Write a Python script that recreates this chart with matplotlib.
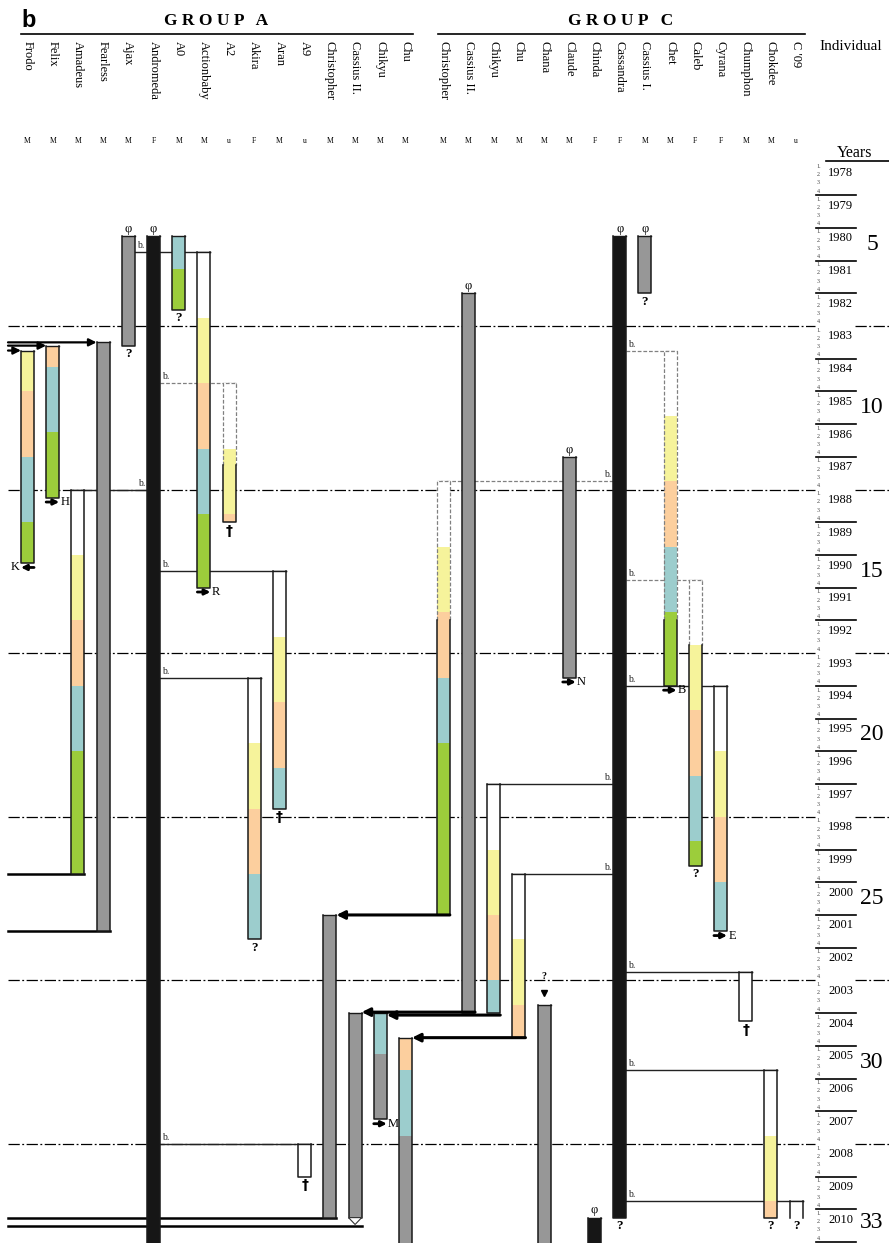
import numpy as np
import matplotlib.pyplot as plt
from matplotlib.patches import Rectangle, Polygon

plt.rcParams['font.family'] = ['Liberation Serif', 'DejaVu Serif']

# header: individuals and sex
group_a = ["Frodo", "Felix", "Amadeus", "Fearless", "Ajax", "Andromeda", "A0",
           "Actionbaby", "A2", "Akira", "Aran", "A9", "Christopher",
           "Cassius II.", "Chikyu", "Chu"]
sex_a = ["M", "M", "M", "M", "M", "F", "M", "M", "u", "F", "M", "u", "M", "M", "M", "M"]
group_c = ["Christopher", "Cassius II.", "Chikyu", "Chu", "Chana", "Claude",
           "Chinda", "Cassandra", "Cassius I.", "Chet", "Caleb", "Cyrana",
           "Chumphon", "Chokdee", "C '09"]
sex_c = ["M", "M", "M", "M", "M", "M", "F", "F", "M", "M", "F", "F", "M", "M", "u"]

END = 2011.5  # still present at the bottom edge

# individual, from, to, stage
# w = before stage 1, y/p/t/g = stages 1-4, s = grey, k = black
segments = [
    ("A:Frodo", 1983.75, 1985.0, "y"), ("A:Frodo", 1985.0, 1987.0, "p"),
    ("A:Frodo", 1987.0, 1989.0, "t"), ("A:Frodo", 1989.0, 1990.25, "g"),
    ("A:Felix", 1983.6, 1984.25, "p"), ("A:Felix", 1984.25, 1986.25, "t"),
    ("A:Felix", 1986.25, 1988.25, "g"),
    ("A:Amadeus", 1988.0, 1990.0, "w"), ("A:Amadeus", 1990.0, 1992.0, "y"),
    ("A:Amadeus", 1992.0, 1994.0, "p"), ("A:Amadeus", 1994.0, 1996.0, "t"),
    ("A:Amadeus", 1996.0, 1999.75, "g"),
    ("A:Fearless", 1983.5, 2001.5, "s"),
    ("A:Ajax", 1980.25, 1983.6, "s"),
    ("A:Andromeda", 1980.25, END, "k"),
    ("A:A0", 1980.25, 1981.25, "t"), ("A:A0", 1981.25, 1982.5, "g"),
    ("A:Actionbaby", 1980.75, 1982.75, "w"), ("A:Actionbaby", 1982.75, 1984.75, "y"),
    ("A:Actionbaby", 1984.75, 1986.75, "p"), ("A:Actionbaby", 1986.75, 1988.75, "t"),
    ("A:Actionbaby", 1988.75, 1991.0, "g"),
    ("A:A2", 1984.75, 1986.75, "w"), ("A:A2", 1986.75, 1988.75, "y"),
    ("A:A2", 1988.75, 1989.0, "p"),
    ("A:Akira", 1993.75, 1995.75, "w"), ("A:Akira", 1995.75, 1997.75, "y"),
    ("A:Akira", 1997.75, 1999.75, "p"), ("A:Akira", 1999.75, 2001.75, "t"),
    ("A:Aran", 1990.5, 1992.5, "w"), ("A:Aran", 1992.5, 1994.5, "y"),
    ("A:Aran", 1994.5, 1996.5, "p"), ("A:Aran", 1996.5, 1997.75, "t"),
    ("A:A9", 2008.0, 2009.0, "w"),
    ("A:Christopher", 2001.0, 2010.25, "s"),
    ("A:Cassius II.", 2004.0, 2010.25, "s"),
    ("A:Chikyu", 2004.0, 2005.25, "t"), ("A:Chikyu", 2005.25, 2007.25, "s"),
    ("A:Chu", 2004.75, 2005.75, "p"), ("A:Chu", 2005.75, 2007.75, "t"),
    ("A:Chu", 2007.75, END, "s"),
    ("C:Christopher", 1987.75, 1989.75, "w"), ("C:Christopher", 1989.75, 1991.75, "y"),
    ("C:Christopher", 1991.75, 1993.75, "p"), ("C:Christopher", 1993.75, 1995.75, "t"),
    ("C:Christopher", 1995.75, 2001.0, "g"),
    ("C:Cassius II.", 1982.0, 2004.0, "s"),
    ("C:Chikyu", 1997.0, 1999.0, "w"), ("C:Chikyu", 1999.0, 2001.0, "y"),
    ("C:Chikyu", 2001.0, 2003.0, "p"), ("C:Chikyu", 2003.0, 2004.0, "t"),
    ("C:Chu", 1999.75, 2001.75, "w"), ("C:Chu", 2001.75, 2003.75, "y"),
    ("C:Chu", 2003.75, 2004.75, "p"),
    ("C:Chana", 2003.75, END, "s"),
    ("C:Claude", 1987.0, 1993.75, "s"),
    ("C:Chinda", 2010.25, END, "k"),
    ("C:Cassandra", 1980.25, 2010.25, "k"),
    ("C:Cassius I.", 1980.25, 1982.0, "s"),
    ("C:Chet", 1983.75, 1985.75, "w"), ("C:Chet", 1985.75, 1987.75, "y"),
    ("C:Chet", 1987.75, 1989.75, "p"), ("C:Chet", 1989.75, 1991.75, "t"),
    ("C:Chet", 1991.75, 1994.0, "g"),
    ("C:Caleb", 1990.75, 1992.75, "w"), ("C:Caleb", 1992.75, 1994.75, "y"),
    ("C:Caleb", 1994.75, 1996.75, "p"), ("C:Caleb", 1996.75, 1998.75, "t"),
    ("C:Caleb", 1998.75, 1999.5, "g"),
    ("C:Cyrana", 1994.0, 1996.0, "w"), ("C:Cyrana", 1996.0, 1998.0, "y"),
    ("C:Cyrana", 1998.0, 2000.0, "p"), ("C:Cyrana", 2000.0, 2001.5, "t"),
    ("C:Chumphon", 2002.75, 2004.25, "w"),
    ("C:Chokdee", 2005.75, 2007.75, "w"), ("C:Chokdee", 2007.75, 2009.75, "y"),
    ("C:Chokdee", 2009.75, 2010.25, "p"),
    ("C:C '09", 2009.75, 2010.25, "w"),
]

# uncertain (dashed) part of a life line
dashed_until = {"A:A2": 1987.25, "C:Christopher": 1992.0,
                "C:Chet": 1992.0, "C:Caleb": 1992.75}
open_bottom = ["C:C '09"]

# parent line, child, year, uncertain
births = [
    ("A:Ajax", "A:Actionbaby", 1980.75, False),
    ("A:Andromeda", "A:A2", 1984.75, True),
    ("A:Andromeda", "A:Amadeus", 1988.0, False),
    ("A:Andromeda", "A:Aran", 1990.5, False),
    ("A:Andromeda", "A:Akira", 1993.75, False),
    ("A:Andromeda", "A:A9", 2008.0, False),
    ("C:Cassandra", "C:Chet", 1983.75, True),
    ("C:Cassandra", "C:Christopher", 1987.75, True),
    ("C:Cassandra", "C:Caleb", 1990.75, True),
    ("C:Cassandra", "C:Cyrana", 1994.0, False),
    ("C:Cassandra", "C:Chikyu", 1997.0, False),
    ("C:Cassandra", "C:Chu", 1999.75, False),
    ("C:Cassandra", "C:Chumphon", 2002.75, False),
    ("C:Cassandra", "C:Chokdee", 2005.75, False),
    ("C:Cassandra", "C:C '09", 2009.75, False),
]

# moves from group C to group A
transfers = [("C:Christopher", "A:Christopher", 2001.0),
             ("C:Cassius II.", "A:Cassius II.", 2003.97),
             ("C:Chikyu", "A:Chikyu", 2004.06),
             ("C:Chu", "A:Chu", 2004.75)]

immigrants = [("A:Fearless", 1983.5), ("A:Felix", 1983.6), ("A:Frodo", 1983.75)]
emigrants = [("A:Amadeus", 1999.75), ("A:Fearless", 2001.5),
             ("A:Christopher", 2010.25), ("A:Cassius II.", 2010.5)]

exits = [("A:Frodo", "K"), ("A:Felix", "H"), ("A:Actionbaby", "R"),
         ("C:Claude", "N"), ("C:Chet", "B"), ("C:Cyrana", "E"), ("A:Chikyu", "M")]
unknown_end = ["A:Ajax", "A:A0", "A:Akira", "C:Caleb", "C:Cassius I.",
               "C:Cassandra", "C:Chokdee", "C:C '09"]
died = ["A:A2", "A:Aran", "A:A9", "C:Chumphon"]
founders = ["A:Ajax", "A:Andromeda", "C:Cassandra", "C:Cassius I.",
            "C:Cassius II.", "C:Claude", "C:Chinda"]

years = np.arange(1978, 2011)
dashdot_years = [1983, 1988, 1993, 1998, 2003, 2008]
period_marks = ["5", "10", "15", "20", "25", "30", "33"]
period_at = [1980.5, 1985.5, 1990.5, 1995.5, 2000.5, 2005.5, 2010.4]

fill = {"w": "white", "y": "#f6f39b", "p": "#fccf9e", "t": "#9ccdcd",
        "g": "#9ccd3b", "s": "#979797", "k": "#161616"}


# pixel -> data helpers for layout
def X(p):
    return (p - 27.5) / 25.2


def Y(p):
    return 1978 + (p - 162.4) / 32.72


xpos = {f"A:{n}": i for i, n in enumerate(group_a)}
xpos.update({f"C:{n}": 16.5 + j for j, n in enumerate(group_c)})
HW = 0.26

fig = plt.figure(figsize=(8.89, 12.43), dpi=100)
ax = fig.add_axes([0, 0, 1, 1])
ax.set_xlim(X(0), X(889))
ax.set_ylim(Y(1243), Y(0))
ax.axis('off')

# header
ax.text(X(21), Y(27), 'b', family='Liberation Sans', fontweight='bold',
        fontsize=17, ha='left', va='baseline')
ax.text(X(216), Y(21), 'G R O U P   A', fontweight='bold', fontsize=12.5,
        ha='center', va='center')
ax.text(X(621), Y(21), 'G R O U P   C', fontweight='bold', fontsize=12.5,
        ha='center', va='center')
ax.plot([X(21), X(413)], [Y(34), Y(34)], color='black', lw=1.2)
ax.plot([X(438), X(805)], [Y(34), Y(34)], color='black', lw=1.2)
for names, sexes, g in [(group_a, sex_a, "A"), (group_c, sex_c, "C")]:
    for n, s in zip(names, sexes):
        x = xpos[f"{g}:{n}"]
        ax.text(x, Y(41), n, rotation=-90, ha='center', va='top', fontsize=9)
        ax.text(x, Y(141.5), s, ha='center', va='center', fontsize=5.5)
ax.text(X(851), Y(47), 'Individual', ha='center', va='center', fontsize=11)
ax.text(X(855), Y(153), 'Years', ha='center', va='center', fontsize=11.5)
ax.plot([X(826), X(889)], [Y(161), Y(161)], color='black', lw=1.2)

# year column
for yr in years:
    ax.text(X(828), yr + 0.32, str(yr), ha='left', va='center', fontsize=9)
    for q in range(1, 5):
        ax.text(X(816.5), yr + (q - 0.5) / 4, f"{q}.", ha='left', va='center',
                fontsize=4.3, color='#444')
    if yr + 1 not in dashdot_years:
        ax.plot([X(816), X(856)], [yr + 1, yr + 1], color='black', lw=1.2)
for lab, yy in zip(period_marks, period_at):
    ax.text(X(872), yy, lab, ha='center', va='center', fontsize=17)

for yr in dashdot_years:
    for a, b in [(8, 815), (855, 889)]:
        ax.plot([X(a), X(b)], [yr, yr], color='black', lw=0.9,
                ls=(0, (9, 2, 1.5, 2)), zorder=1)

# birth lines
for parent, child, yr, dashed in births:
    p, c = xpos[parent], xpos[child]
    if c > p:
        x0, x1, lx, ha = p + HW, c + HW, p + HW + 0.08, 'left'
    else:
        x0, x1, lx, ha = p - HW, c - HW, p - HW - 0.08, 'right'
    if dashed:
        ax.plot([x0, x1], [yr, yr], color='#808080', lw=0.9, ls=(0, (3, 1.5)), zorder=2)
    else:
        ax.plot([x0, x1], [yr, yr], color='#222', lw=1.0, zorder=2)
    ax.text(lx, yr - 0.06, 'b.', ha=ha, va='bottom', fontsize=7, color='#222')

# life bars
top, bottom = {}, {}
for key in dict.fromkeys(s[0] for s in segments):
    segs = [s for s in segments if s[0] == key]
    x = xpos[key]
    t0 = min(s[1] for s in segs)
    t1 = max(s[2] for s in segs)
    top[key], bottom[key] = t0, t1
    for _, a, b, st in segs:
        ax.add_patch(Rectangle((x - HW, a), 2 * HW, b - a, facecolor=fill[st],
                               edgecolor='none', zorder=3))
    d = dashed_until.get(key, t0)
    if d > t0:
        ax.plot([x - HW, x - HW, x + HW, x + HW], [d, t0, t0, d], color='#808080',
                lw=0.9, ls=(0, (3, 1.5)), zorder=4)
    else:
        ax.plot([x - HW, x + HW], [t0, t0], color='#1a1a1a', lw=1.0, zorder=4)
    if key in open_bottom:
        ax.plot([x - HW, x - HW], [d, t1], color='#1a1a1a', lw=1.1, zorder=4)
        ax.plot([x + HW, x + HW], [d, t1], color='#1a1a1a', lw=1.1, zorder=4)
    else:
        ax.plot([x - HW, x - HW, x + HW, x + HW], [d, t1, t1, d], color='#1a1a1a',
                lw=1.1, zorder=4)

# transfers between groups
for src, dst, yr in transfers:
    ax.annotate('', xy=(xpos[dst] + HW, yr), xytext=(xpos[src] + HW, yr),
                arrowprops=dict(arrowstyle='-|>', lw=2.2, color='black',
                                mutation_scale=12, shrinkA=0, shrinkB=0), zorder=5)
for key, yr in immigrants:
    ax.annotate('', xy=(xpos[key] - HW, yr), xytext=(X(8), yr),
                arrowprops=dict(arrowstyle='-|>', lw=1.6, color='black',
                                mutation_scale=11, shrinkA=0, shrinkB=0), zorder=5)
for key, yr in emigrants:
    ax.plot([X(8), xpos[key] + HW], [yr, yr], color='black', lw=1.8, zorder=2)

# end-of-line marks
for key, lab in exits:
    x, yy = xpos[key], bottom[key] + 0.13
    if lab == "K":
        a, b, lx, ha = x + HW, x - HW, x - HW - 0.05, 'right'
    else:
        a, b, lx, ha = x - HW, x + HW, x + HW + 0.05, 'left'
    ax.annotate('', xy=(b, yy), xytext=(a, yy),
                arrowprops=dict(arrowstyle='-|>', lw=2.0, color='black',
                                mutation_scale=8, shrinkA=0, shrinkB=0), zorder=5)
    ax.text(lx, yy, lab, ha=ha, va='center', fontsize=9)
for key in unknown_end:
    ax.text(xpos[key], bottom[key] + 0.08, '?', ha='center', va='top',
            fontsize=9.5, fontweight='bold')
for key in died:
    ax.text(xpos[key], bottom[key] + 0.05, '\u2020', ha='center', va='top',
            fontsize=10, fontweight='bold', family=['DejaVu Sans'])
for key in founders:
    ax.text(xpos[key], top[key] - 0.04, '\u03c6', ha='center', va='bottom', fontsize=9)

# Chana: unknown arrival, Cassius II. leaves
x = xpos["C:Chana"]
ax.text(x, Y(977), '?', ha='center', va='center', fontsize=7, fontweight='bold')
ax.plot([x], [Y(993)], marker='v', ms=5, color='black')
x = xpos["A:Cassius II."]
b = bottom["A:Cassius II."]
ax.add_patch(Polygon([(x - HW, b), (x + HW, b), (x, b + 0.21)], closed=True,
                     facecolor='white', edgecolor='#333', lw=0.8, zorder=4))

fig.savefig('out.png', dpi=100)
